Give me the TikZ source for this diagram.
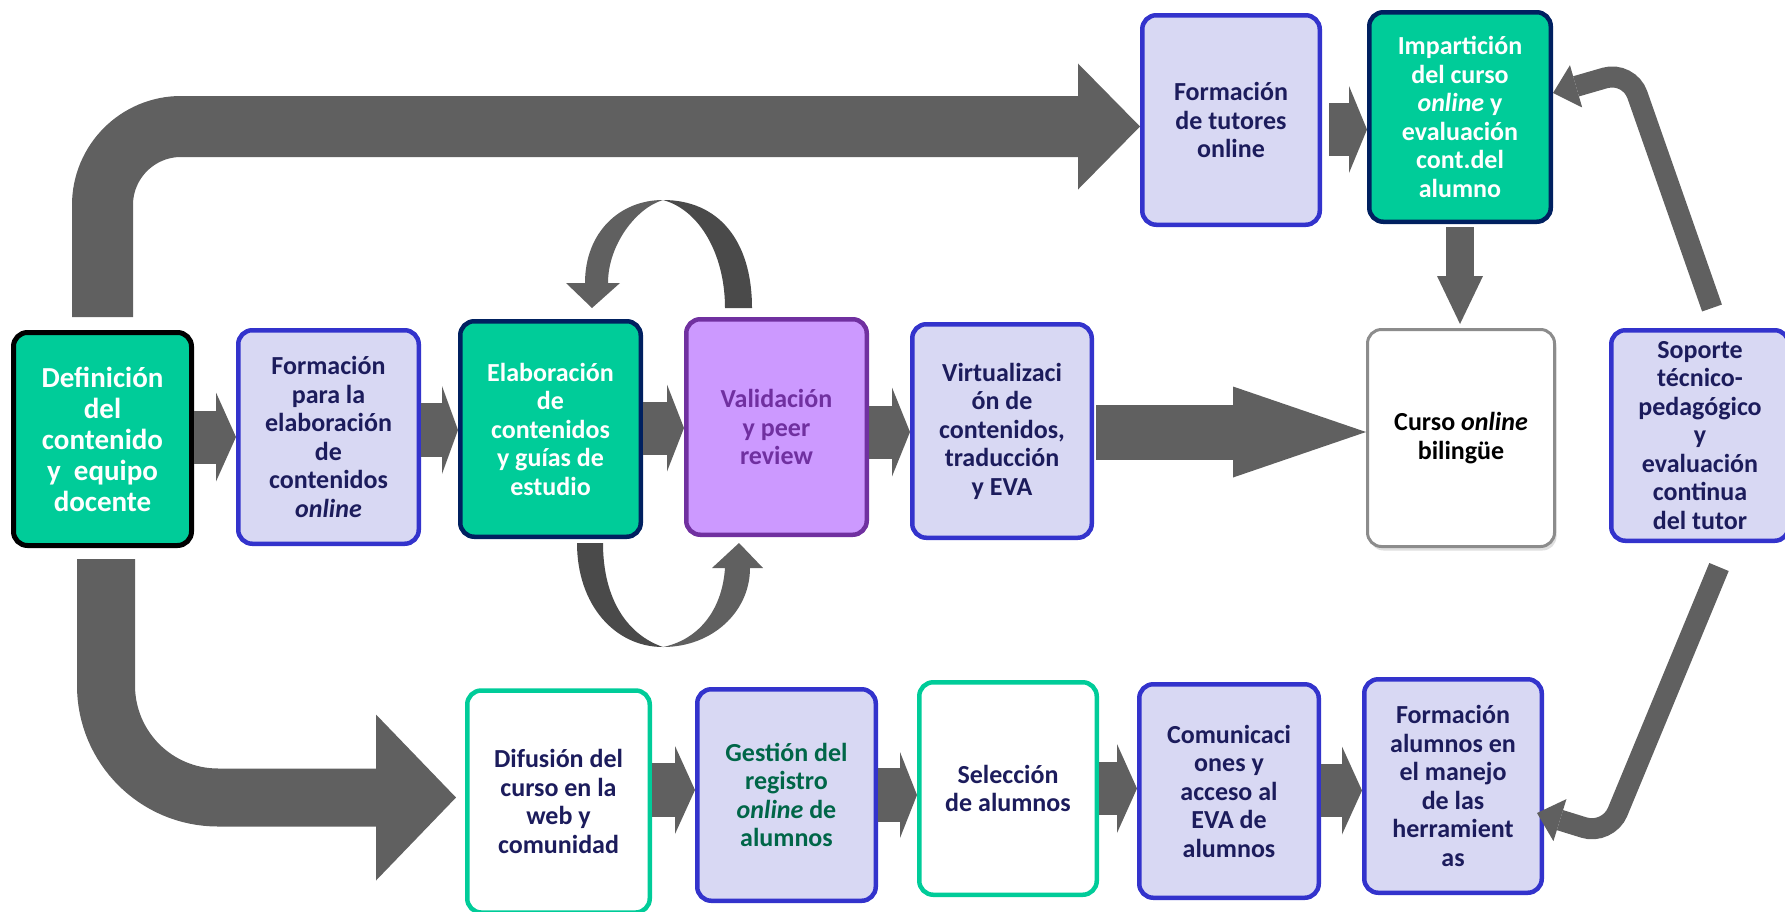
\documentclass[tikz,border=0pt]{standalone}
\usepackage{fontspec}
\setmainfont{Carlito}
\usetikzlibrary{arrows.meta,calc,shadows}

\definecolor{teal1}{RGB}{0,204,153}
\definecolor{lav}{RGB}{216,216,243}
\definecolor{bblue}{RGB}{51,51,204}
\definecolor{navyb}{RGB}{0,32,96}
\definecolor{navyt}{RGB}{28,28,92}
\definecolor{purf}{RGB}{204,153,255}
\definecolor{purb}{RGB}{112,48,160}
\definecolor{grn}{RGB}{0,102,72}
\definecolor{arr}{RGB}{96,96,96}
\definecolor{arrd}{RGB}{74,74,74}
\definecolor{greyb}{RGB}{140,140,140}

\tikzset{
  box/.style={rectangle, rounded corners=14pt, line width=4.5pt, align=center,
    font=\fontsize{26}{28.5}\selectfont\bfseries, inner sep=0pt},
  lavbox/.style={box, draw=bblue, fill=lav, text=navyt},
  tealbox/.style={box, draw=navyb, fill=teal1, text=white},
  whitebox/.style={box, draw=teal1, fill=white, text=navyt},
  blk/.style n args={3}{draw=arr, line width=#1,
    -{Triangle[length=#2, width=#3, line width=0pt]}},
  thinarr/.style={draw=arr, line width=21pt, rounded corners=25pt,
    -{Triangle[length=24pt, width=44pt, line width=0pt]}},
  loopl/.style={fill=arr},
  loopd/.style={fill=arrd}
}

\begin{document}
\begin{tikzpicture}[x=1pt,y=-1pt]
\useasboundingbox (0,0) rectangle (1785,911);

% ---------- boxes ----------
\node[tealbox, draw=black, line width=5pt, minimum width=178pt, minimum height=213pt,
  font=\fontsize{29}{31}\selectfont\bfseries] (def) at (102.5,439)
  {Definición\\del\\contenido\\y\ \ equipo\\docente};
\node[lavbox, minimum width=180.5pt, minimum height=213.5pt] (form) at (328.5,437)
  {Formación\\para la\\elaboración\\de\\contenidos\\\textit{online}};
\node[tealbox, minimum width=180.5pt, minimum height=215.5pt] (elab) at (550.5,429)
  {Elaboración\\de\\contenidos\\y guías de\\estudio};
\node[box, draw=purb, fill=purf, text=purb, minimum width=180.5pt, minimum height=215.5pt] (val) at (776.5,427)
  {Validación\\y peer\\review};
\node[lavbox, minimum width=179.5pt, minimum height=213.5pt] (virt) at (1002,431)
  {Virtualizaci\\ón de\\contenidos,\\traducción\\y EVA};
\node[box, draw=greyb, fill=white, text=black, line width=3pt, minimum width=187pt, minimum height=217pt,
  drop shadow={opacity=0.25, shadow xshift=2pt, shadow yshift=-4pt}] (cur) at (1461,438)
  {Curso \textit{online}\\bilingüe};
\node[lavbox, minimum width=177.5pt, minimum height=210.5pt] (sop) at (1700,435.5)
  {Soporte\\técnico-\\pedagógico\\y\\evaluación\\continua\\del tutor};
\node[lavbox, minimum width=177.5pt, minimum height=209.5pt] (tut) at (1231,120)
  {Formación\\de tutores\\online};
\node[tealbox, minimum width=181.5pt, minimum height=209.5pt] (imp) at (1460,117)
  {Impartición\\del curso\\\textit{online} y\\evaluación\\cont.del\\alumno};
\node[whitebox, minimum width=182.5pt, minimum height=222pt] (dif) at (558.5,801.5)
  {Difusión del\\curso en la\\web y\\comunidad};
\node[lavbox, text=grn, minimum width=178.5pt, minimum height=211.5pt] (ges) at (786.5,795)
  {Gestión del\\registro\\\textit{online} de\\alumnos};
\node[whitebox, minimum width=177.5pt, minimum height=212.5pt] (sel) at (1008,788.5)
  {Selección\\de alumnos};
\node[lavbox, minimum width=179.5pt, minimum height=213.5pt] (com) at (1229,791)
  {Comunicaci\\ones y\\acceso al\\EVA de\\alumnos};
\node[lavbox, minimum width=177.5pt, minimum height=213.5pt] (fal) at (1453,786)
  {Formación\\alumnos en\\el manejo\\de las\\herramient\\as};

% ---------- big L arrows ----------
\draw[blk={61pt}{62pt}{126pt}, rounded corners=78.5pt]
  (def.north |- 0,317) |- (tut.west |- 0,126.5);
\draw[blk={58pt}{80pt}{166pt}, rounded corners=112pt, shorten >=9pt]
  ($(def.south)+(3.5,11)$) |- (dif.west |- 0,797.5);

% ---------- straight block arrows ----------
\draw[blk={53pt}{20pt}{89pt}] (def.east |- 0,437) -- (form.west |- 0,437);
\draw[blk={54pt}{16pt}{88pt}] (form.east |- 0,430) -- (elab.west |- 0,430);
\draw[blk={53pt}{17pt}{87pt}] (elab.east |- 0,428) -- (val.west |- 0,428);
\draw[blk={53pt}{18pt}{89pt}] (val.east |- 0,432) -- (virt.west |- 0,432);
\draw[blk={55pt}{133pt}{91pt}, shorten <=2pt] (virt.east |- 0,432) -- (cur.west |- 0,432);
\draw[blk={53pt}{18pt}{87pt}, shorten <=7pt] (tut.east |- 0,129.5) -- (imp.west |- 0,129.5);
\draw[blk={28pt}{48pt}{46pt}, shorten <=3pt, shorten >=4pt] (imp.south) -- (imp.south |- cur.north);

\draw[blk={54pt}{20pt}{88pt}] (dif.east |- 0,790) -- (ges.west |- 0,790);
\draw[blk={54pt}{17pt}{86pt}] (ges.east |- 0,795) -- (sel.west |- 0,795);
\draw[blk={53pt}{20pt}{89pt}] (sel.east |- 0,788.5) -- (com.west |- 0,788.5);
\draw[blk={53pt}{20pt}{88pt}] (com.east |- 0,790.5) -- (fal.west |- 0,790.5);

% ---------- thin bent arrows ----------
\draw[thinarr] ($(sop.north)+(12,-20)$) -- (1629,71) -- ($(imp.east)+(0,-24)$);
\draw[thinarr] ($(sop.south)+(19,24)$) -- (1608,835) -- ($(fal.east)+(-7,27)$);

% ---------- loop arrows ----------
% top loop (Validación -> Elaboración)
\fill[loopl] (585,283) .. controls (585,232) and (620,200) .. (663,200)
  .. controls (636,208) and (608,245) .. (608,283) -- cycle;
\fill[loopd] (663,200) .. controls (718,200) and (752,240) .. (752,308)
  -- (725,308) .. controls (725,255) and (700,210) .. (663,200) -- cycle;
\fill[loopl] (566,283) -- (620,283) -- (592,308) -- cycle;
% bottom loop (Elaboración -> Validación)
\fill[loopd] (577,543) .. controls (577,605) and (615,647) .. (663,647)
  .. controls (628,635) and (603,600) .. (603,543) -- cycle;
\fill[loopl] (663,647) .. controls (712,647) and (750,612) .. (750,568)
  -- (725,568) .. controls (722,612) and (697,640) .. (663,647) -- cycle;
\fill[loopl] (712,568) -- (763,568) -- (739,543) -- cycle;
\end{tikzpicture}
\end{document}
